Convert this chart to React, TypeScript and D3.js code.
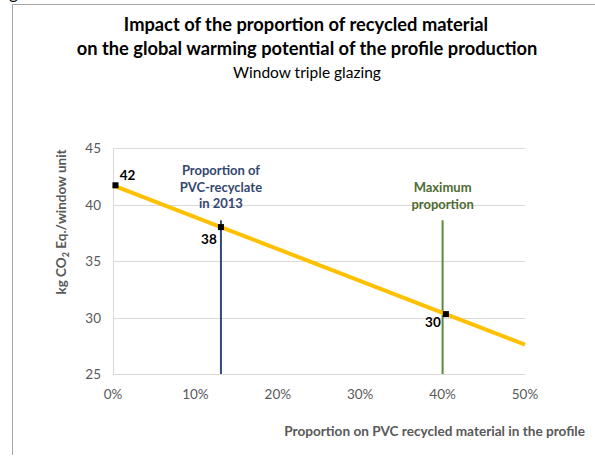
import React from "react";
import * as d3 from "d3";

const lineX = [0, 13.1, 40.4, 50];
const lineY = [41.7, 38.0, 30.3, 27.6];
const markerX = [0.3, 13.1, 40.4];
const markerY = [41.7, 38.0, 30.3];
const markerLabels = ["42", "38", "30"];
const yTicks = [25, 30, 35, 40, 45];
const xTicks = [0, 10, 20, 30, 40, 50];
const refLines = [
  { x: 13.1, top: 38.6, lines: ["Proportion of", "PVC-recyclate", "in 2013"], color: "#2F4A7A", text: "#34476F" },
  { x: 40, top: 38.6, lines: ["Maximum", "proportion"], color: "#5B8A3A", text: "#4E6B30" },
];

const FONT = "Lato, 'Open Sans', sans-serif";

export default function App() {
  const x = d3.scaleLinear().domain([0, 50]).range([113, 525]);
  const y = d3.scaleLinear().domain([25, 45]).range([374, 148]);
  const line = d3.line<number>().x((d, i) => x(lineX[i])).y((d, i) => y(lineY[i]));
  const labelOffsets = [
    { dx: 12, dy: -5, anchor: "middle" },
    { dx: -12, dy: 17, anchor: "middle" },
    { dx: -13, dy: 13, anchor: "middle" },
  ];
  return (
    <svg width={595} height={456} style={{ position: "absolute", left: 0, top: 0, fontFamily: FONT }}>
      <rect x={0} y={0} width={595} height={456} fill="#fff" />
      <text x={9} y={-1} fontSize={17} fill="#000">g</text>
      <line x1={12} y1={4.5} x2={595} y2={4.5} stroke="#a6a6a6" strokeWidth={1} />
      <line x1={12.5} y1={4} x2={12.5} y2={455} stroke="#a6a6a6" strokeWidth={1} />

      <text x={306} y={31} textAnchor="middle" fontSize={18.3} fontWeight="bold" fill="#000">
        Impact of the proportion of recycled material
      </text>
      <text x={307} y={55} textAnchor="middle" fontSize={18.3} fontWeight="bold" fill="#000">
        on the global warming potential of the profile production
      </text>
      <text x={307} y={78} textAnchor="middle" fontSize={15.5} fill="#000">
        Window triple glazing
      </text>

      {yTicks.map((t) => (
        <g key={t}>
          <line x1={113} x2={525} y1={Math.round(y(t)) + 0.5} y2={Math.round(y(t)) + 0.5} stroke="#d9d9d9" strokeWidth={1} />
          <text x={101} y={y(t) + 5} textAnchor="end" fontSize={13.5} fill="#595959">{t}</text>
        </g>
      ))}
      <line x1={113.5} x2={113.5} y1={148} y2={374} stroke="#d9d9d9" strokeWidth={1} />
      {xTicks.map((t) => (
        <text key={t} x={x(t)} y={399} textAnchor="middle" fontSize={13.5} fill="#595959">{t}%</text>
      ))}

      {refLines.map((r, i) => (
        <g key={i}>
          <line x1={x(r.x)} x2={x(r.x)} y1={y(r.top)} y2={374} stroke={r.color} strokeWidth={2} />
          {r.lines.map((l, j) => (
            <text key={j} x={x(r.x)} y={(i === 0 ? 175 : 192) + j * 16.5} textAnchor="middle" fontSize={13} fontWeight="bold" fill={r.text}>{l}</text>
          ))}
        </g>
      ))}

      <path d={line(lineY) || ""} fill="none" stroke="#FFC000" strokeWidth={4} />
      {markerX.map((mx, i) => (
        <g key={i}>
          <rect x={x(mx) - 3} y={y(markerY[i]) - 3} width={6} height={6} fill="#000" />
          <text x={x(mx) + labelOffsets[i].dx} y={y(markerY[i]) + labelOffsets[i].dy} textAnchor="middle" fontSize={13.5} fontWeight="bold" fill="#000">{markerLabels[i]}</text>
        </g>
      ))}

      <text transform={`translate(66,222) rotate(-90)`} textAnchor="middle" fontSize={13.5} fontWeight="bold" fill="#595959">
        kg CO<tspan fontSize={9} dy={3}>2</tspan><tspan dy={-3}> Eq./window unit</tspan>
      </text>
      <text x={585} y={436} textAnchor="end" fontSize={13.6} fontWeight="bold" fill="#595959">
        Proportion on PVC recycled material in the profile
      </text>
    </svg>
  );
}
